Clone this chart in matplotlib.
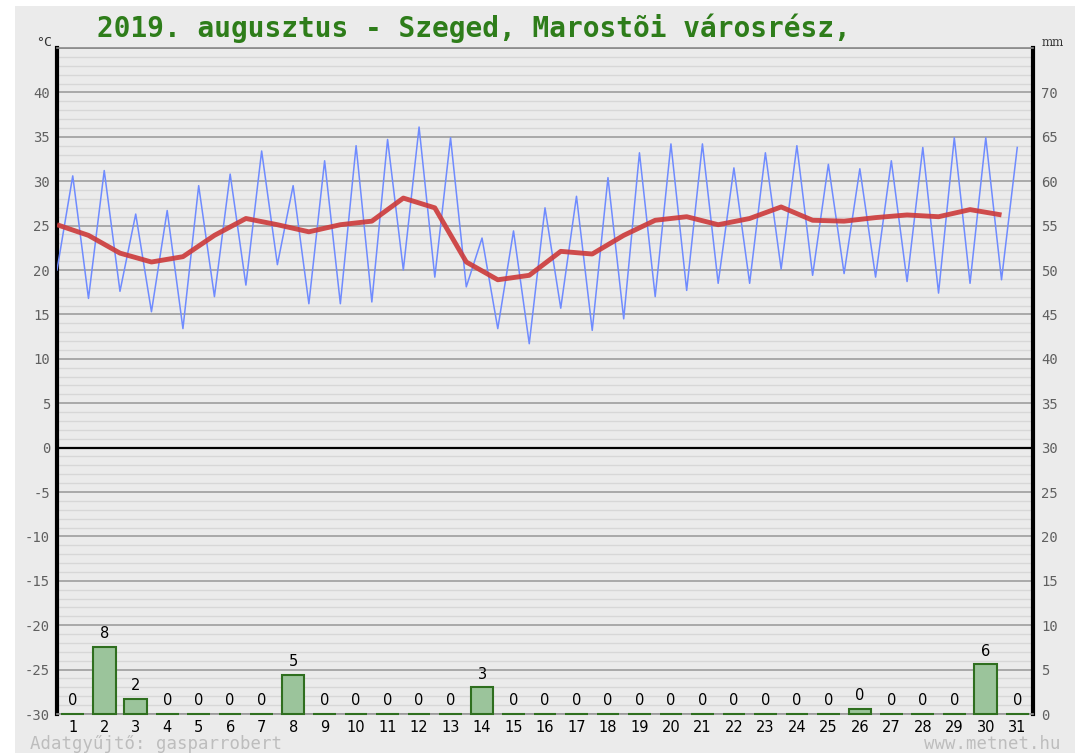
import numpy as np
import matplotlib
matplotlib.use('Agg')
import matplotlib.pyplot as plt
from matplotlib.patches import Rectangle

# data
days = np.arange(1, 32)
tmin = [20.0, 16.8, 17.6, 15.3, 13.4, 17.0, 18.3, 20.6, 16.2, 16.2, 16.4, 20.0, 19.2, 18.1, 13.4, 11.7,
        15.7, 13.2, 14.5, 17.0, 17.7, 18.5, 18.5, 20.1, 19.4, 19.6, 19.2, 18.7, 17.4, 18.5, 18.9]
tmax = [30.6, 31.2, 26.3, 26.7, 29.5, 30.8, 33.4, 29.5, 32.3, 34.0, 34.7, 36.1, 34.9, 23.6, 24.4, 27.0,
        28.3, 30.4, 33.2, 34.2, 34.2, 31.5, 33.2, 34.0, 31.9, 31.4, 32.3, 33.8, 34.9, 34.9, 33.8]
tavg = [25.1, 23.9, 21.9, 20.9, 21.5, 23.9, 25.8, 25.1, 24.3, 25.1, 25.5, 28.1, 27.0, 20.9, 18.9, 19.4,
        22.1, 21.8, 23.9, 25.6, 26.0, 25.1, 25.8, 27.1, 25.6, 25.5, 25.9, 26.2, 26.0, 26.8, 26.2]
precip = [0, 7.6, 1.7, 0, 0, 0, 0, 4.4, 0, 0, 0, 0, 0, 3.0, 0, 0,
          0, 0, 0, 0, 0, 0, 0, 0, 0, 0.6, 0, 0, 0, 5.6, 0]
precip_labels = ['0', '8', '2', '0', '0', '0', '0', '5', '0', '0', '0', '0', '0', '3', '0', '0',
                 '0', '0', '0', '0', '0', '0', '0', '0', '0', '0', '0', '0', '0', '6', '0']
temp_ticks = list(range(-30, 45, 5))
mm_ticks = list(range(0, 75, 5))

title = '2019. augusztus - Szeged, Marostõi városrész,'

bg = '#ebebeb'
fig = plt.figure(figsize=(10.82, 7.53), dpi=100)
fig.patch.set_facecolor('white')
fig.patches.append(Rectangle((15 / 1082, 0), 1060 / 1082, 747 / 753, transform=fig.transFigure,
                             facecolor=bg, edgecolor='none', zorder=-10))

ax = fig.add_axes([57 / 1082, 1 - 714 / 753, 976 / 1082, 666 / 753])
ax.set_facecolor(bg)
ax.set_xlim(0, 31)
ax.set_ylim(-30, 45)

# grid: minor every 1, major every 5
for v in range(-30, 46):
    if v == 0:
        ax.axhline(v, color='black', lw=1.6, zorder=2)
    elif v % 5 == 0:
        ax.axhline(v, color='#a3a3a3', lw=1.3, zorder=1)
    else:
        ax.axhline(v, color='#d7d7d7', lw=1.0, zorder=1)

# min/max zigzag
xs = np.ravel(np.column_stack([days - 1, days - 0.5]))
ys = np.ravel(np.column_stack([tmin, tmax]))
ax.plot(xs, ys, color='#6f8bff', lw=1.1, zorder=4)
# daily mean
ax.plot(days - 1, tavg, color='#cc3a3a', lw=3.5, alpha=0.9, zorder=5, solid_capstyle='butt')

ax.set_yticks(temp_ticks)
ax.set_yticklabels([str(t) for t in temp_ticks], family='DejaVu Sans Mono', fontsize=10, color='#606060')
ax.set_xticks(days - 0.5)
ax.set_xticklabels([str(d) for d in days], fontsize=10.5, color='black')
ax.tick_params(length=0, pad=4)
ax.tick_params(axis='y', pad=5)

for side in ['left', 'right']:
    ax.spines[side].set_color('black')
    ax.spines[side].set_linewidth(3)
ax.spines['top'].set_color('#888888')
ax.spines['top'].set_linewidth(1.2)
ax.spines['bottom'].set_color('#999999')
ax.spines['bottom'].set_linewidth(1.2)

# precipitation on the right axis
ax2 = ax.twinx()
ax2.set_ylim(0, 75)
bars = ax2.bar(days - 0.5, precip, width=0.72, color='#9bc49b', edgecolor='#2f6f1f', lw=1.5, zorder=3)
for b in bars:
    b.set_clip_on(False)
for d, p, lab in zip(days, precip, precip_labels):
    ax2.annotate(lab, (d - 0.5, p), xytext=(0, 4), textcoords='offset points',
                 ha='center', va='bottom', fontsize=10.5, color='black')
ax2.set_yticks(mm_ticks)
ax2.set_yticklabels([str(m) for m in mm_ticks], family='DejaVu Sans Mono', fontsize=10, color='#606060')
ax2.tick_params(length=0, pad=6)
for side in ['left', 'right', 'top', 'bottom']:
    ax2.spines[side].set_visible(False)

fig.text(97 / 1082, 1 - 28 / 753, title, family='DejaVu Sans Mono', fontweight='bold',
         fontsize=20, color='#2e7d1a', ha='left', va='center')
fig.text(44 / 1082, 1 - 42 / 753, '°C', family='DejaVu Sans Mono', fontsize=9.5, color='#333333',
         ha='center', va='center')
fig.text(1053 / 1082, 1 - 43 / 753, 'mm', family='DejaVu Serif', fontsize=8.5, color='#333333',
         ha='center', va='center')
fig.text(30 / 1082, 1 - 744 / 753, 'Adatgyűjtő: gasparrobert', family='DejaVu Sans Mono',
         fontsize=12.5, color='#bdbdbd', ha='left', va='center')
fig.text(1060 / 1082, 1 - 744 / 753, 'www.metnet.hu', family='DejaVu Sans Mono',
         fontsize=12.5, color='#bdbdbd', ha='right', va='center')

fig.savefig('out.png', dpi=100, facecolor=fig.get_facecolor())
